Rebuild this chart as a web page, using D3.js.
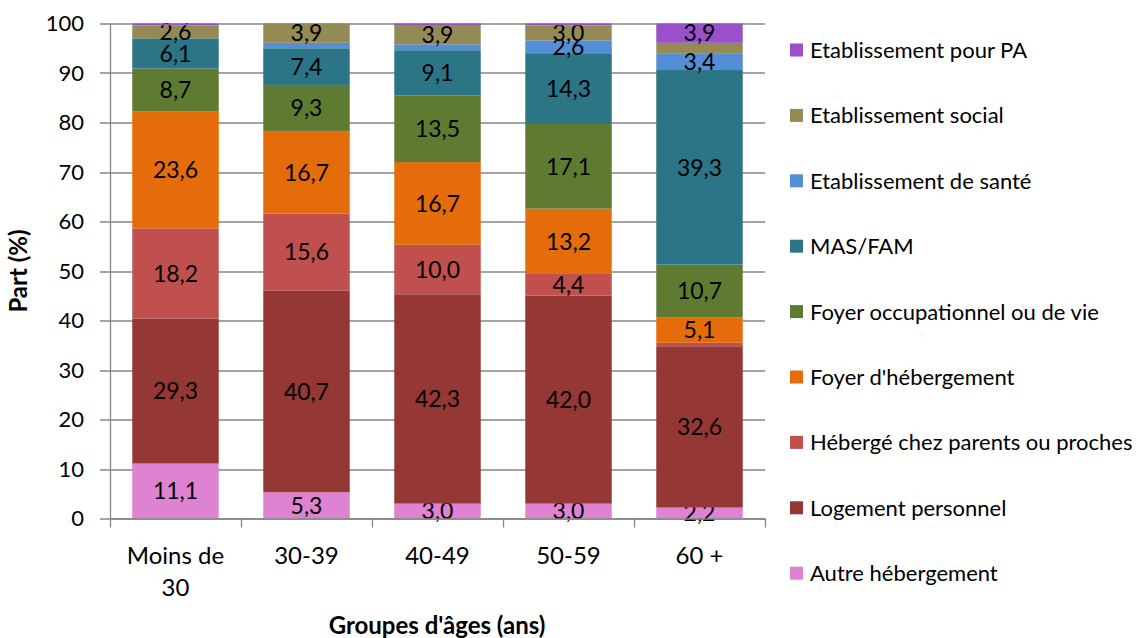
<!DOCTYPE html>
<html>
<head>
<meta charset="utf-8">
<script src="https://cdn.jsdelivr.net/npm/d3@7"></script>
<style>
  body { margin: 0; background: #fff; }
  text { font-family: Lato, "Open Sans", sans-serif; fill: #000; }
</style>
</head>
<body>
<div id="chart"></div>
<script>
// categories and series (bottom to top)
var groups = ["Moins de 30", "30-39", "40-49", "50-59", "60 +"];
var groupLines = [["Moins de", "30"], ["30-39"], ["40-49"], ["50-59"], ["60 +"]];
var series = ["Autre hébergement", "Logement personnel", "Hébergé chez parents ou proches",
  "Foyer d'hébergement", "Foyer occupationnel ou de vie", "MAS/FAM",
  "Etablissement de santé", "Etablissement social", "Etablissement pour PA"];
var colors = ["#DE82D2", "#953735", "#C0504D", "#E46C0A", "#5F7B31", "#2B7586",
  "#558ED5", "#948A54", "#9A4FCB"];

var autre      = [11.1, 5.3, 3.0, 3.0, 2.2];
var logement   = [29.3, 40.7, 42.3, 42.0, 32.6];
var heberge    = [18.2, 15.6, 10.0, 4.4, 0.7];
var foyerHeb   = [23.6, 16.7, 16.7, 13.2, 5.1];
var foyerOcc   = [8.7, 9.3, 13.5, 17.1, 10.7];
var masFam     = [6.1, 7.4, 9.1, 14.3, 39.3];
var sante      = [0.0, 1.1, 1.2, 2.6, 3.4];
var social     = [2.6, 3.9, 3.9, 3.0, 2.1];
var pa         = [0.4, 0.0, 0.3, 0.4, 3.9];
var yTicks = [0, 10, 20, 30, 40, 50, 60, 70, 80, 90, 100];

var values = [autre, logement, heberge, foyerHeb, foyerOcc, masFam, sante, social, pa];

var width = 1136, height = 638;
var margin = {top: 23.5, left: 110, right: 371, bottom: 119.5};
var plotW = width - margin.left - margin.right;
var plotH = height - margin.top - margin.bottom;

var svg = d3.select("#chart").append("svg")
  .attr("width", width).attr("height", height);

var g = svg.append("g")
  .attr("transform", "translate(" + margin.left + "," + margin.top + ")");

var x = d3.scaleBand().domain(groups).range([0, plotW]).paddingInner(0.34).paddingOuter(0.17);
var y = d3.scaleLinear().domain([0, 100]).range([plotH, 0]);

// gridlines
g.append("g").selectAll("line").data(yTicks).enter().append("line")
  .attr("x1", -10).attr("x2", plotW)
  .attr("y1", function(d) { return Math.round(y(d)) + 0.5; })
  .attr("y2", function(d) { return Math.round(y(d)) + 0.5; })
  .attr("stroke", "#868686").attr("stroke-width", 1.3);

// stack
var table = groups.map(function(gname, i) {
  var row = {group: gname};
  series.forEach(function(s, j) { row[s] = values[j][i]; });
  return row;
});
var stacked = d3.stack().keys(series)(table);

var layers = g.selectAll("g.layer").data(stacked).enter().append("g")
  .attr("class", "layer")
  .attr("fill", function(d, i) { return colors[i]; });

layers.selectAll("rect").data(function(d) { return d; }).enter().append("rect")
  .attr("x", function(d) { return x(d.data.group); })
  .attr("width", x.bandwidth())
  .attr("y", function(d) { return y(d[1]); })
  .attr("height", function(d) { return Math.max(0, y(d[0]) - y(d[1])); });

// data labels (only the readable ones)
layers.selectAll("text").data(function(d) { return d; }).enter()
  .filter(function(d) { return d[1] - d[0] >= 2.15; }).append("text")
  .attr("x", function(d) { return x(d.data.group) + x.bandwidth() / 2; })
  .attr("y", function(d) { return (y(d[0]) + y(d[1])) / 2; })
  .attr("dy", "0.36em")
  .attr("text-anchor", "middle")
  .style("font-size", "23px")
  .text(function(d) { return d3.format(".1f")(d[1] - d[0]).replace(".", ","); });

// y axis
g.append("line").attr("x1", 0.5).attr("x2", 0.5).attr("y1", 0).attr("y2", plotH)
  .attr("stroke", "#868686").attr("stroke-width", 1.3);
g.append("g").selectAll("text").data(yTicks).enter().append("text")
  .attr("x", -26).attr("y", function(d) { return y(d); })
  .attr("dy", "0.36em").attr("text-anchor", "end")
  .style("font-size", "22px")
  .text(function(d) { return d; });

// x axis
g.append("line").attr("x1", 0).attr("x2", plotW)
  .attr("y1", plotH + 0.5).attr("y2", plotH + 0.5)
  .attr("stroke", "#868686").attr("stroke-width", 1.3);
var step = x.step();
g.append("g").selectAll("line").data(d3.range(groups.length + 1)).enter().append("line")
  .attr("x1", function(i) { return i * step + 0.5; })
  .attr("x2", function(i) { return i * step + 0.5; })
  .attr("y1", plotH).attr("y2", plotH + 9)
  .attr("stroke", "#868686").attr("stroke-width", 1.3);

groups.forEach(function(gname, i) {
  var t = g.append("text")
    .attr("x", x(gname) + x.bandwidth() / 2)
    .attr("y", plotH + 45)
    .attr("text-anchor", "middle")
    .style("font-size", "24px");
  groupLines[i].forEach(function(line, k) {
    t.append("tspan").attr("x", x(gname) + x.bandwidth() / 2)
      .attr("dy", k === 0 ? 0 : 32).text(line);
  });
});

// axis titles
svg.append("text")
  .attr("transform", "translate(27," + (margin.top + plotH / 2) + ") rotate(-90)")
  .attr("text-anchor", "middle")
  .style("font-size", "24px").style("font-weight", "bold")
  .text("Part (%)");
svg.append("text")
  .attr("x", 437).attr("y", 634)
  .attr("text-anchor", "middle")
  .style("font-size", "24px").style("font-weight", "bold")
  .text("Groupes d'âges (ans)");

// legend (top to bottom is reverse of stack order)
var legend = svg.append("g").selectAll("g").data(series.slice().reverse()).enter().append("g")
  .attr("transform", function(d, i) { return "translate(790," + (50 + i * 65.4) + ")"; });
legend.append("rect").attr("x", 0).attr("y", -6.5).attr("width", 13).attr("height", 13)
  .attr("fill", function(d) { return colors[series.indexOf(d)]; });
legend.append("text").attr("x", 20).attr("dy", "0.36em")
  .style("font-size", "22px")
  .text(function(d) { return d; });
</script>
</body>
</html>
